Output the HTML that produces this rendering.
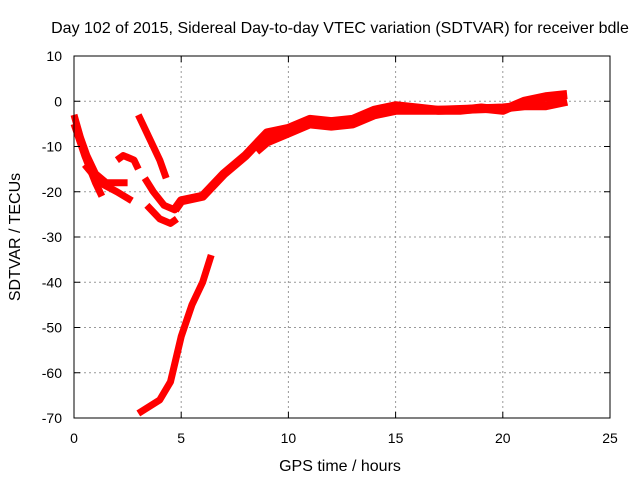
<!DOCTYPE html>
<html><head><meta charset="utf-8"><style>
body{margin:0;background:#fff;}
svg{display:block;font-family:"Liberation Sans",sans-serif;}
</style></head><body>
<svg id="chart" width="640" height="480">
<text x="340" y="33" font-size="16" text-anchor="middle">Day 102 of 2015, Sidereal Day-to-day VTEC variation (SDTVAR) for receiver bdle</text>
<g id="grid"></g>
<g id="series"></g>
<rect x="74" y="56" width="536" height="362" fill="none" stroke="#000" stroke-width="1"/>
<g id="ticks"></g>
<text x="340" y="471" font-size="16" text-anchor="middle">GPS time / hours</text>
<text transform="translate(20,237) rotate(-90)" font-size="16" text-anchor="middle">SDTVAR / TECUs</text>
</svg>
<script>
const xTicks=[0,5,10,15,20,25];
const yTicks=[10,0,-10,-20,-30,-40,-50,-60,-70];
const segA=[[0,-3],[0.3,-8],[0.6,-12],[1,-16],[1.5,-18],[2.5,-18]];
const segB=[[0,-5],[0.5,-12],[1,-18],[1.3,-21]];
const segC=[[0.5,-14],[1.2,-18],[2,-20],[2.7,-22]];
const segD=[[2,-13],[2.3,-12],[2.8,-13],[3,-15]];
const segE=[[3,-3],[3.5,-8],[4,-13],[4.3,-17]];
const segF=[[3.3,-17],[3.7,-20],[4.2,-23],[4.7,-24],[5,-22]];
const segG=[[3.4,-23],[4,-26],[4.5,-27],[4.8,-26]];
const segH=[[4.7,-24],[5,-22],[6,-21],[7,-16],[8,-12],[9,-7],[10,-6],[11,-4],[12,-4.5],[13,-4],[14,-2],[15,-1],[16,-1.5],[17,-2],[18,-2],[19,-1.5],[20,-2],[21,0],[22,1],[23,1.5]];
const segH2=[[8.5,-11],[9,-9],[10,-7],[11,-5],[12,-5.5],[13,-5],[14,-3],[15,-2],[17,-2],[20,-1.5],[21,-1],[22,-1],[23,0]];
const segI=[[3,-69],[4,-66],[4.5,-62],[5,-52],[5.5,-45],[6,-40],[6.4,-34]];
const allSeries=[segA,segB,segC,segD,segE,segF,segG,segH,segH2,segI];
const NS="http://www.w3.org/2000/svg";
function xs(v){return 74+v*(536/25);}
function ys(v){return 56+(10-v)*(362/80);}
const grid=document.getElementById('grid'),ticks=document.getElementById('ticks'),ser=document.getElementById('series');
function mk(tag,attrs,parent){const e=document.createElementNS(NS,tag);for(const k in attrs)e.setAttribute(k,attrs[k]);parent.appendChild(e);return e;}
xTicks.forEach(t=>{
 const x=xs(t);
 if(t>0&&t<25){const g=mk('line',{x1:x,x2:x,y1:56,y2:418,stroke:'#999','stroke-dasharray':'2,3'},grid);
 
 }
 mk('line',{x1:x,x2:x,y1:418,y2:412,stroke:'#000'},ticks);
 mk('line',{x1:x,x2:x,y1:56,y2:62,stroke:'#000'},ticks);
 const l=mk('text',{x:x,y:443,'font-size':14,'text-anchor':'middle'},ticks);l.textContent=t;
 
 
});
yTicks.forEach(t=>{
 const y=ys(t);
 if(t<10&&t>-70){const g=mk('line',{x1:74,x2:610,y1:y,y2:y,stroke:'#999','stroke-dasharray':'2,3'},grid);
 
 }
 mk('line',{x1:74,x2:80,y1:y,y2:y,stroke:'#000'},ticks);
 mk('line',{x1:610,x2:604,y1:y,y2:y,stroke:'#000'},ticks);
 const l=mk('text',{x:62,y:y+5,'font-size':14,'text-anchor':'end'},ticks);l.textContent=t;
 
 
});
allSeries.forEach((s,i)=>{
 const w=(i>=7&&i<=8)?9:7;
 const p=mk('polyline',{points:s.map(d=>xs(d[0])+','+ys(d[1])).join(' '),fill:'none',stroke:'#f00','stroke-width':w,'stroke-linejoin':'round','stroke-linecap':'butt'},ser);
 
 
});
</script>
</body></html>
